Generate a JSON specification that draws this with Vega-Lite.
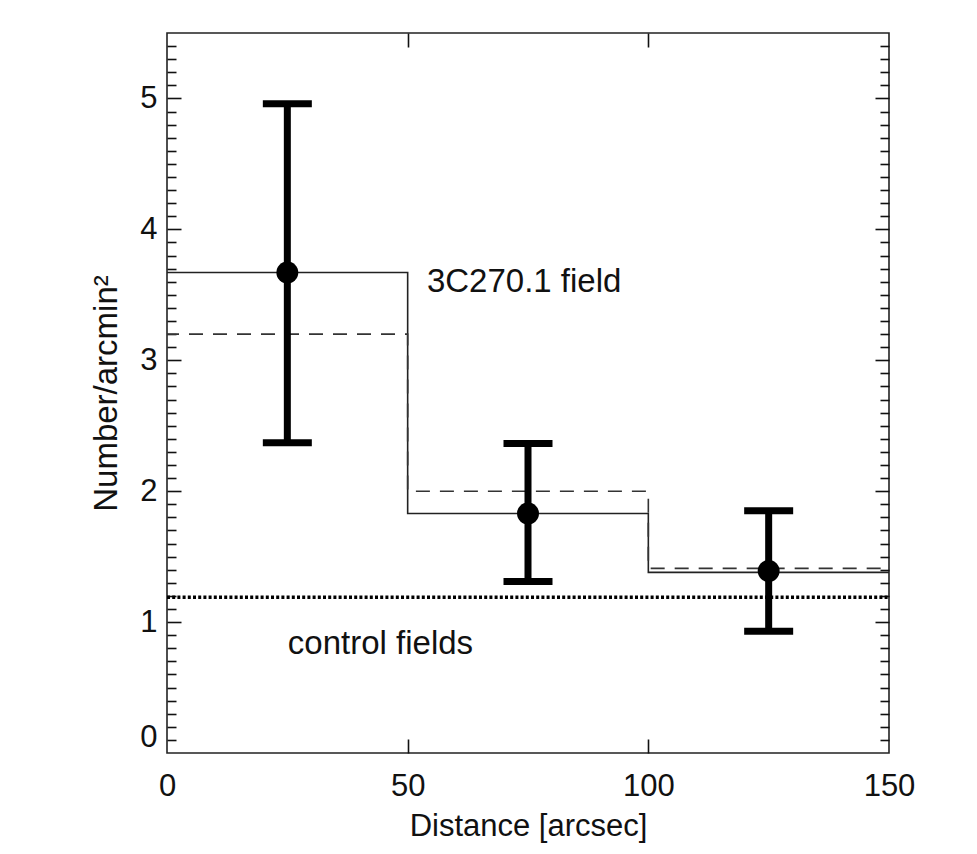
{
  "$schema": "https://vega.github.io/schema/vega-lite/v6.json",
  "width": 722,
  "height": 720,
  "autosize": "none",
  "padding": {"left": 167, "top": 33, "right": 88, "bottom": 101},
  "background": "white",
  "config": {
    "view": {"stroke": "#222", "strokeWidth": 1.6},
    "axis": {
      "grid": false,
      "domain": false,
      "labelFont": "Liberation Sans",
      "titleFont": "Liberation Sans",
      "labelFontSize": 31,
      "titleFontSize": 31,
      "titleFontWeight": "normal",
      "labelColor": "#111",
      "titleColor": "#111",
      "tickColor": "#111",
      "tickWidth": 1.6
    },
    "text": {"font": "Liberation Sans"}
  },
  "datasets": {
    "meas": [
      {"distance": 25, "density": 3.67, "lo": 2.37, "hi": 4.96},
      {"distance": 75, "density": 1.83, "lo": 1.31, "hi": 2.365},
      {"distance": 125, "density": 1.39, "lo": 0.93, "hi": 1.85}
    ]
  },
  "resolve": {"axis": {"x": "independent", "y": "independent"}},
  "layer": [
    {
      "data": {"values": [
        {"x": 0, "y": 3.67}, {"x": 50, "y": 1.83}, {"x": 100, "y": 1.38}, {"x": 150, "y": 1.38}
      ]},
      "mark": {"type": "line", "interpolate": "step-after", "color": "#222", "strokeWidth": 1.6},
      "encoding": {
        "x": {"field": "x", "type": "quantitative", "scale": {"domain": [0, 150], "nice": false, "zero": false},
          "axis": {"orient": "bottom", "values": [0, 50, 100, 150], "ticks": false, "labelFlush": false, "labelPadding": 18, "title": "Distance [arcsec]", "titlePadding": 10}},
        "y": {"field": "y", "type": "quantitative", "scale": {"domain": [0, 5.5], "nice": false, "zero": false},
          "axis": {"orient": "left", "values": [0, 1, 2, 3, 4, 5], "ticks": false, "labelPadding": 10, "labelFlush": true, "title": "Number/arcmin²", "titleFontSize": 33, "titlePadding": 16}}
      }
    },
    {
      "data": {"values": [
        {"x": 0, "y": 3.2}, {"x": 50, "y": 2.0}, {"x": 100, "y": 1.41}, {"x": 150, "y": 1.41}
      ]},
      "mark": {"type": "line", "interpolate": "step-after", "color": "#333", "strokeWidth": 1.6, "strokeDash": [14, 10], "strokeDashOffset": 2},
      "encoding": {
        "x": {"field": "x", "type": "quantitative", "scale": {"domain": [0, 150], "nice": false, "zero": false},
          "axis": {"orient": "bottom", "values": [50, 100], "labels": false, "tickSize": -14, "title": null}},
        "y": {"field": "y", "type": "quantitative", "scale": {"domain": [0, 5.5], "nice": false, "zero": false},
          "axis": {"orient": "left", "values": [1, 2, 3, 4, 5], "labels": false, "tickSize": -14, "title": null}}
      }
    },
    {
      "data": {"values": [
        {"x": 0, "y": 1.19}, {"x": 150, "y": 1.19}
      ]},
      "mark": {"type": "line", "color": "#000", "strokeWidth": 3.4, "strokeDash": [3, 2.2]},
      "encoding": {
        "x": {"field": "x", "type": "quantitative", "scale": {"domain": [0, 150], "nice": false, "zero": false},
          "axis": {"orient": "top", "values": [50, 100], "labels": false, "tickSize": -14, "title": null}},
        "y": {"field": "y", "type": "quantitative", "scale": {"domain": [0, 5.5], "nice": false, "zero": false},
          "axis": {"orient": "left", "values": [0.1,0.2,0.3,0.4,0.5,0.6,0.7,0.8,0.9,1.1,1.2,1.3,1.4,1.5,1.6,1.7,1.8,1.9,2.1,2.2,2.3,2.4,2.5,2.6,2.7,2.8,2.9,3.1,3.2,3.3,3.4,3.5,3.6,3.7,3.8,3.9,4.1,4.2,4.3,4.4,4.5,4.6,4.7,4.8,4.9,5.1,5.2,5.3,5.4], "labels": false, "tickSize": -9, "title": null}}
      }
    },
    {
      "data": {"name": "meas"},
      "mark": {"type": "rule", "color": "#000", "strokeWidth": 7},
      "encoding": {
        "x": {"field": "distance", "type": "quantitative", "scale": {"domain": [0, 150], "nice": false, "zero": false}, "axis": null},
        "y": {"field": "lo", "type": "quantitative", "scale": {"domain": [0, 5.5], "nice": false, "zero": false},
          "axis": {"orient": "right", "values": [1, 2, 3, 4, 5], "labels": false, "tickSize": -14, "title": null}},
        "y2": {"field": "hi"}
      }
    },
    {
      "data": {"name": "meas"},
      "mark": {"type": "tick", "orient": "horizontal", "color": "#000", "size": 49, "thickness": 7, "opacity": 1},
      "encoding": {
        "x": {"field": "distance", "type": "quantitative", "scale": {"domain": [0, 150], "nice": false, "zero": false}, "axis": null},
        "y": {"field": "hi", "type": "quantitative", "scale": {"domain": [0, 5.5], "nice": false, "zero": false},
          "axis": {"orient": "right", "values": [0.1,0.2,0.3,0.4,0.5,0.6,0.7,0.8,0.9,1.1,1.2,1.3,1.4,1.5,1.6,1.7,1.8,1.9,2.1,2.2,2.3,2.4,2.5,2.6,2.7,2.8,2.9,3.1,3.2,3.3,3.4,3.5,3.6,3.7,3.8,3.9,4.1,4.2,4.3,4.4,4.5,4.6,4.7,4.8,4.9,5.1,5.2,5.3,5.4], "labels": false, "tickSize": -9, "title": null}}
      }
    },
    {
      "data": {"name": "meas"},
      "mark": {"type": "tick", "orient": "horizontal", "color": "#000", "size": 49, "thickness": 7, "opacity": 1},
      "encoding": {
        "x": {"field": "distance", "type": "quantitative", "scale": {"domain": [0, 150], "nice": false, "zero": false}, "axis": null},
        "y": {"field": "lo", "type": "quantitative", "scale": {"domain": [0, 5.5], "nice": false, "zero": false}, "axis": null}
      }
    },
    {
      "data": {"name": "meas"},
      "mark": {"type": "point", "shape": "circle", "filled": true, "color": "#000", "size": 480, "opacity": 1},
      "encoding": {
        "x": {"field": "distance", "type": "quantitative", "scale": {"domain": [0, 150], "nice": false, "zero": false}, "axis": null},
        "y": {"field": "density", "type": "quantitative", "scale": {"domain": [0, 5.5], "nice": false, "zero": false}, "axis": null}
      }
    },
    {
      "data": {"values": [
        {"x": 54, "y": 3.6, "label": "3C270.1 field"},
        {"x": 25.1, "y": 0.83, "label": "control fields"}
      ]},
      "mark": {"type": "text", "align": "left", "baseline": "middle", "fontSize": 33, "color": "#111"},
      "encoding": {
        "x": {"field": "x", "type": "quantitative", "scale": {"domain": [0, 150], "nice": false, "zero": false}, "axis": null},
        "y": {"field": "y", "type": "quantitative", "scale": {"domain": [0, 5.5], "nice": false, "zero": false}, "axis": null},
        "text": {"field": "label"}
      }
    }
  ]
}
